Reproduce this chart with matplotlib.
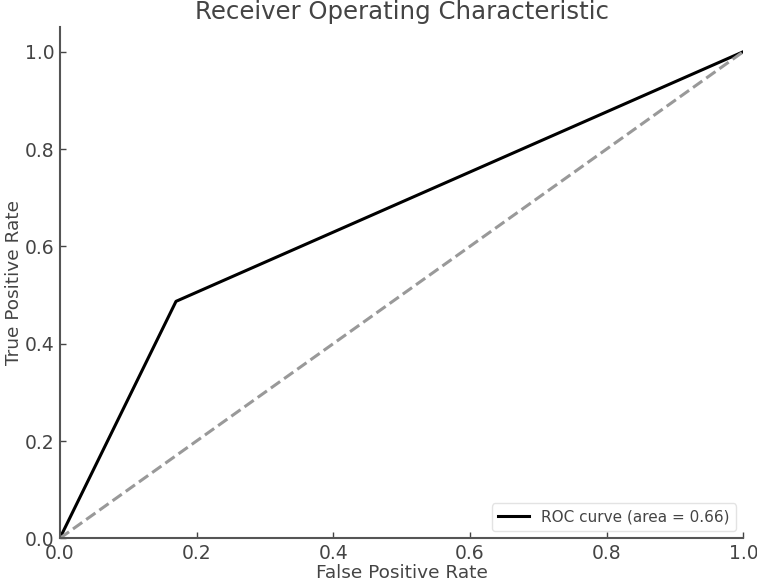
import numpy as np
import matplotlib.pyplot as plt

fpr = [0.0, 0.17, 1.0]
tpr = [0.0, 0.487, 1.0]
roc_auc = 0.66
chance = [0.0, 1.0]

txt = "#444444"
plt.rcParams["text.color"] = txt
plt.rcParams["axes.labelcolor"] = txt
plt.rcParams["xtick.color"] = txt
plt.rcParams["ytick.color"] = txt

fig, ax = plt.subplots(figsize=(7.57, 5.82), dpi=100)
fig.subplots_adjust(left=0.079, right=0.982, bottom=0.075, top=0.953)

ax.plot(fpr, tpr, color="black", lw=2.2, label="ROC curve (area = %0.2f)" % roc_auc)
ax.plot(chance, chance, color="#999999", lw=2.2, linestyle="--")

ax.set_xlim(0.0, 1.0)
ax.set_ylim(0.0, 1.05)
ax.set_xlabel("False Positive Rate", fontsize=13.3, labelpad=1)
ax.set_ylabel("True Positive Rate", fontsize=13.3, labelpad=1)
ax.set_title("Receiver Operating Characteristic", fontsize=17.6, pad=6)

for s in ["top", "right"]:
    ax.spines[s].set_visible(False)
for s in ["left", "bottom"]:
    ax.spines[s].set_color("#555555")
    ax.spines[s].set_linewidth(1.5)

ax.tick_params(direction="in", length=4, width=1, labelsize=13.5, pad=4)
ax.legend(loc="lower right", fontsize=11, frameon=True, edgecolor="#dddddd", fancybox=True)

fig.savefig("out.png", dpi=100)
